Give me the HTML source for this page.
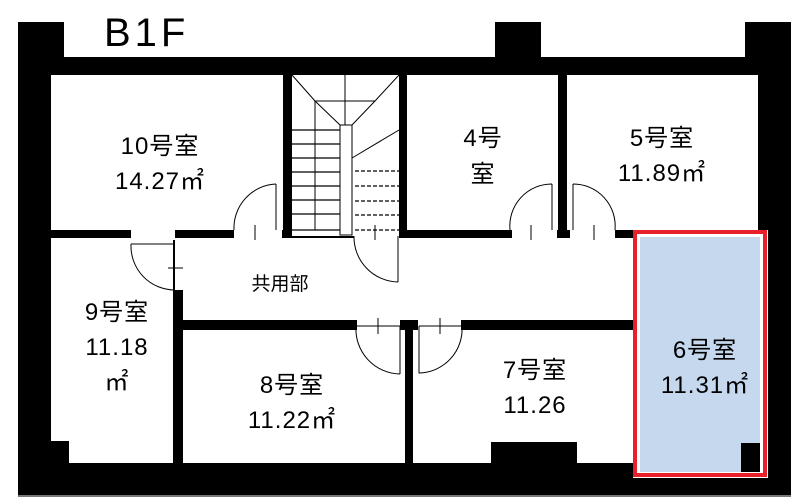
<!DOCTYPE html>
<html><head><meta charset="utf-8"><style>
html,body{margin:0;padding:0;background:#fff;}
svg{display:block;}
text{font-family:"Liberation Sans","Noto Sans CJK JP",sans-serif;fill:#000;}
</style></head><body>
<svg width="802" height="503" viewBox="0 0 802 503" xmlns="http://www.w3.org/2000/svg">
<rect width="802" height="503" fill="#fff"/>
<rect x="18" y="22" width="46" height="40" fill="#000"/>
<rect x="495" y="22" width="46" height="40" fill="#000"/>
<rect x="745" y="22" width="46" height="40" fill="#000"/>
<rect x="18" y="57" width="773" height="439" fill="#000"/>
<rect x="18" y="495" width="773" height="2" fill="#777"/>
<g fill="#fff">
<rect x="51" y="75" width="232" height="155"/>
<rect x="292" y="75" width="107" height="161"/>
<rect x="407" y="75" width="151" height="155"/>
<rect x="567" y="75" width="191" height="155"/>
<rect x="183" y="238" width="450" height="82"/>
<rect x="175" y="238" width="10" height="52"/>
<rect x="51" y="238" width="122" height="203"/>
<rect x="69" y="238" width="104" height="225"/>
<rect x="183" y="330" width="222" height="133"/>
<rect x="413" y="330" width="220" height="133"/>
<rect x="234" y="228" width="48" height="12"/>
<rect x="354" y="228" width="45" height="12"/>
<rect x="512" y="228" width="45" height="12"/>
<rect x="570" y="228" width="45" height="12"/>
<rect x="131" y="230" width="44" height="10"/>
<rect x="357" y="318" width="43" height="14"/>
<rect x="418" y="318" width="43" height="14"/>
</g>
<rect x="491" y="442" width="86" height="21" fill="#000"/>
<rect x="633" y="230" width="135" height="248" fill="#fff"/>
<rect x="640" y="237" width="120" height="235" fill="#c5d8ee"/>
<rect x="741" y="443" width="19" height="29" fill="#000"/>
<rect x="635" y="232" width="130" height="243" fill="none" stroke="#e8202a" stroke-width="4"/>
<g stroke="#000" stroke-width="1" fill="none">
<polyline points="292,75 315,101 340,125"/>
<polyline points="399,75 375,101 352,125"/>
<line x1="315" y1="101" x2="375" y2="101"/>
<line x1="345" y1="75" x2="345" y2="125"/>
<line x1="315" y1="101" x2="315" y2="230"/>
<rect x="340" y="125" width="12" height="110"/>
<line x1="352" y1="158" x2="399" y2="130"/>
<g stroke-width="1.3">
<line x1="292" y1="130" x2="340" y2="130"/><line x1="292" y1="144" x2="340" y2="144"/>
<line x1="292" y1="158" x2="340" y2="158"/><line x1="292" y1="172" x2="340" y2="172"/>
<line x1="292" y1="186" x2="340" y2="186"/><line x1="292" y1="200" x2="340" y2="200"/>
<line x1="292" y1="214" x2="340" y2="214"/><line x1="292" y1="230" x2="340" y2="230"/>
</g>
<g stroke-dasharray="4,2" stroke-width="1.3">
<line x1="355" y1="171" x2="399" y2="171"/><line x1="355" y1="186" x2="399" y2="186"/>
<line x1="355" y1="201" x2="399" y2="201"/><line x1="355" y1="215" x2="399" y2="215"/>
<line x1="355" y1="230" x2="399" y2="230"/>
</g>
<path d="M276,184 L276,230 M276,184 A44,44 0 0 0 234,230"/>
<path d="M552,184 L552,230 M552,184 A42,42 0 0 0 510,230"/>
<path d="M573,184 L573,230 M573,184 A42,42 0 0 1 615,230"/>
<path d="M398,236 L398,282 M398,282 A45,45 0 0 1 354,236"/>
<path d="M131,244 L175,244 M131,244 A44,44 0 0 0 175,290"/>
<path d="M356,326 L400,326 L400,374 M400,374 A45,45 0 0 1 356,326"/>
<path d="M419,326 L462,326 M419,326 L419,373 A44,44 0 0 0 462,326"/>
<line x1="255" y1="225" x2="255" y2="240"/><line x1="375" y1="225" x2="375" y2="240"/>
<line x1="531" y1="225" x2="531" y2="240"/><line x1="594" y1="225" x2="594" y2="240"/>
<line x1="378" y1="318" x2="378" y2="334"/><line x1="440" y1="318" x2="440" y2="334"/>
<line x1="168" y1="268" x2="183" y2="268"/>
</g>
<text x="104" y="46" font-size="40" letter-spacing="4">B1F</text>
<g font-size="24" text-anchor="middle" letter-spacing="1">
<text x="160" y="154">10号室</text>
<text x="160" y="189">14.27㎡</text>
<text x="483" y="146">4号</text>
<text x="483" y="182">室</text>
<text x="662" y="146">5号室</text>
<text x="662" y="181">11.89㎡</text>
<text x="117" y="320">9号室</text>
<text x="117" y="355">11.18</text>
<text x="117" y="390">㎡</text>
<text x="292" y="393">8号室</text>
<text x="292" y="428">11.22㎡</text>
<text x="535" y="378">7号室</text>
<text x="535" y="413">11.26</text>
<text x="705" y="358">6号室</text>
<text x="705" y="393">11.31㎡</text>
</g>
<text x="280" y="290" font-size="19" text-anchor="middle">共用部</text>
</svg>
</body></html>
